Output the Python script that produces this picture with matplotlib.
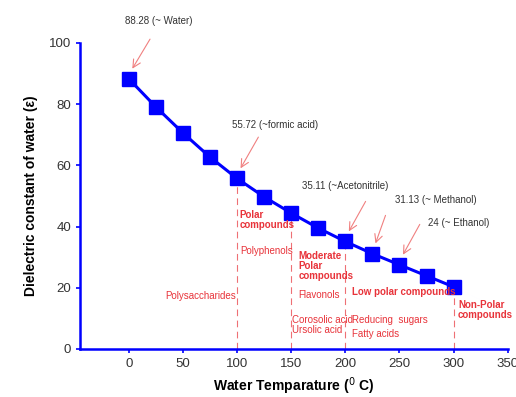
import matplotlib
matplotlib.use("Agg")
from matplotlib import pyplot as plt

plt.rcParams["font.family"] = ["Liberation Sans", "DejaVu Sans"]

# water temperature (C) vs dielectric constant
temps = [0, 25, 50, 75, 100, 125, 150, 175, 200, 225, 250, 275, 300]
eps = [88.28, 79.1, 70.6, 62.7, 55.72, 49.7, 44.4, 39.5, 35.11, 31.13, 27.5, 23.9, 20.3]

# labelled points: (text, index of point, text position)
notes = [
    ("88.28 (~ Water)", 0, (-3, 107)),
    ("55.72 (~formic acid)", 4, (95, 73.2)),
    ("35.11 (~Acetonitrile)", 8, (160, 53.3)),
    ("31.13 (~ Methanol)", 9, (246, 48.6)),
    ("24 (~ Ethanol)", 10, (276, 41.3)),
]
arrow_from = [(21, 102), (121, 70), (220, 49), (238, 44.5), (270, 41.5)]

cutoffs = [100, 150, 200, 300]
regions = [
    ("Polar\ncompounds", 102, 42, "bold"),
    ("Polyphenols", 103, 32, "normal"),
    ("Moderate\nPolar\ncompounds", 157, 27, "bold"),
    ("Polysaccharides", 99, 17.3, "normal"),
    ("Flavonols", 157, 17.6, "normal"),
    ("Low polar compounds", 206, 18.6, "bold"),
    ("Corosolic acid", 151, 9.5, "normal"),
    ("Ursolic acid", 151, 6.2, "normal"),
    ("Reducing  sugars", 206, 9.5, "normal"),
    ("Fatty acids", 206, 5, "normal"),
    ("Non-Polar\ncompounds", 304, 12.7, "bold"),
]

red = "#e8333a"
pink = "#f08080"
blue = "#0000ff"

fig = plt.figure(figsize=(5.16, 3.97), dpi=100)
ax = fig.add_axes([0.155, 0.121, 0.829, 0.771])

for c, v in zip(cutoffs, [eps[temps.index(c)] for c in cutoffs]):
    ax.plot([c, c], [0, v], color=red, lw=0.8, ls=(0, (6, 4)), alpha=0.7, zorder=1)

ax.plot(temps, eps, color=blue, lw=2.2, marker="s", markersize=9.5, zorder=3)

for (txt, i, pos), start in zip(notes, arrow_from):
    ax.text(pos[0], pos[1], txt, fontsize=7, color="#333333", ha="left", va="center")
    ax.annotate("", xy=(temps[i] + 2, eps[i] + 2.5), xytext=start,
                arrowprops=dict(arrowstyle="->", color=pink, lw=0.8,
                                mutation_scale=14))

for txt, x, y, w in regions:
    ha = "right" if txt == "Polysaccharides" else "left"
    ax.text(x, y, txt, fontsize=7, color=red, fontweight=w, ha=ha, va="center",
            linespacing=1.0)

ax.set_xlim(-45, 350)
ax.set_ylim(0, 100)
ax.set_xticks(range(0, 351, 50))
ax.set_yticks(range(0, 101, 20))
for s in ["top", "right"]:
    ax.spines[s].set_visible(False)
for s in ["left", "bottom"]:
    ax.spines[s].set_color(blue)
    ax.spines[s].set_linewidth(1.8)
ax.tick_params(colors=blue, labelcolor="#333333", labelsize=9.5, width=1.2, length=3)
ax.set_xlabel("Water Temparature ($^{0}$ C)", fontsize=10, fontweight="bold")
ax.set_ylabel("Dielectric constant of water (\u03b5)", fontsize=10, fontweight="bold",
              labelpad=8)

plt.savefig("out.png", dpi=100)
